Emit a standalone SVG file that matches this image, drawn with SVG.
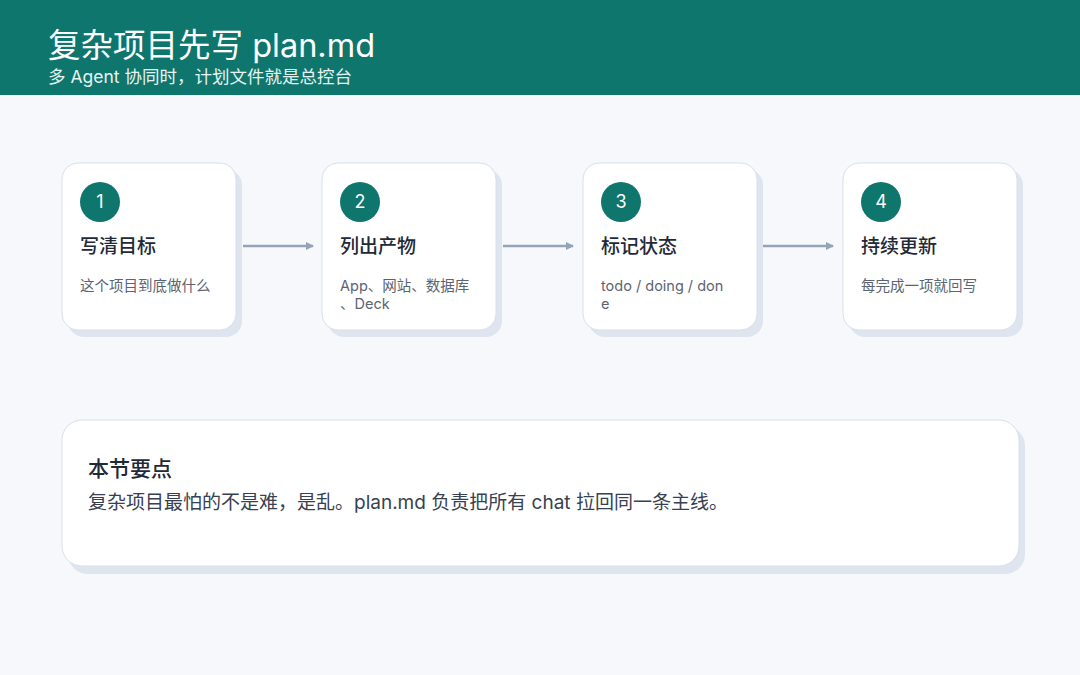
<svg xmlns="http://www.w3.org/2000/svg" width="1080" height="675" viewBox="0 0 1080 675">
<style>
text{font-family:"Inter","Noto Sans CJK SC",sans-serif}
.sh{fill:#dfe5ee}
.card{fill:#fff;stroke:#d9e0ea;stroke-width:1}
.num{fill:#0f766e}
.nt{fill:#fff;font-size:18px;text-anchor:middle}
.t{fill:#1f2937;font-size:19px;font-weight:500}
.s{fill:#5b6472;font-size:14.5px}
.c{stroke:#94a3b8;stroke-width:2.5;fill:none}
</style>
<defs><marker id="a" markerWidth="8" markerHeight="8" refX="7" refY="4" orient="auto" markerUnits="userSpaceOnUse"><path d="M0,0L8,4L0,8z" fill="#94a3b8"/></marker></defs>
<rect width="1080" height="675" fill="#f6f8fb"/>
<rect width="1080" height="95" fill="#0f766e"/>
<text x="48" y="57" fill="#fff" font-size="32.5">复杂项目先写 plan.md</text>
<text x="48" y="83" fill="#e6f4f1" font-size="17.5">多 Agent 协同时，计划文件就是总控台</text>
<g id="n1"><rect class="sh" x="68" y="169" width="174" height="168" rx="16"/><rect class="card" x="62" y="163" width="174" height="167" rx="16"/><circle class="num" cx="100" cy="202" r="20"/><text class="nt" x="100" y="208">1</text><text class="t" x="80" y="253">写清目标</text><text class="s" x="80" y="291">这个项目到底做什么</text></g>
<g id="n2"><rect class="sh" x="328" y="169" width="174" height="168" rx="16"/><rect class="card" x="322" y="163" width="174" height="167" rx="16"/><circle class="num" cx="360" cy="202" r="20"/><text class="nt" x="360" y="208">2</text><text class="t" x="340" y="253">列出产物</text><text class="s" x="340" y="291">App、网站、数据库</text><text class="s" x="340" y="309">、Deck</text></g>
<g id="n3"><rect class="sh" x="589" y="169" width="174" height="168" rx="16"/><rect class="card" x="583" y="163" width="174" height="167" rx="16"/><circle class="num" cx="621" cy="202" r="20"/><text class="nt" x="621" y="208">3</text><text class="t" x="601" y="253">标记状态</text><text class="s" x="601" y="291">todo / doing / don</text><text class="s" x="601" y="309">e</text></g>
<g id="n4"><rect class="sh" x="849" y="169" width="174" height="168" rx="16"/><rect class="card" x="843" y="163" width="174" height="167" rx="16"/><circle class="num" cx="881" cy="202" r="20"/><text class="nt" x="881" y="208">4</text><text class="t" x="861" y="253">持续更新</text><text class="s" x="861" y="291">每完成一项就回写</text></g>
<g id="connectors"><path class="c" d="M243,246H313" marker-end="url(#a)"/><path class="c" d="M503,246H573" marker-end="url(#a)"/><path class="c" d="M763,246H833" marker-end="url(#a)"/></g>
<g id="summary"><rect class="sh" x="68" y="426" width="957" height="148" rx="20"/><rect class="card" x="62" y="420" width="957" height="146" rx="20"/><text x="88" y="476" fill="#1f2937" font-size="21" font-weight="500">本节要点</text><text x="88" y="509" fill="#374151" font-size="19">复杂项目最怕的不是难，是乱。plan.md 负责把所有 chat 拉回同一条主线。</text></g>
</svg>
